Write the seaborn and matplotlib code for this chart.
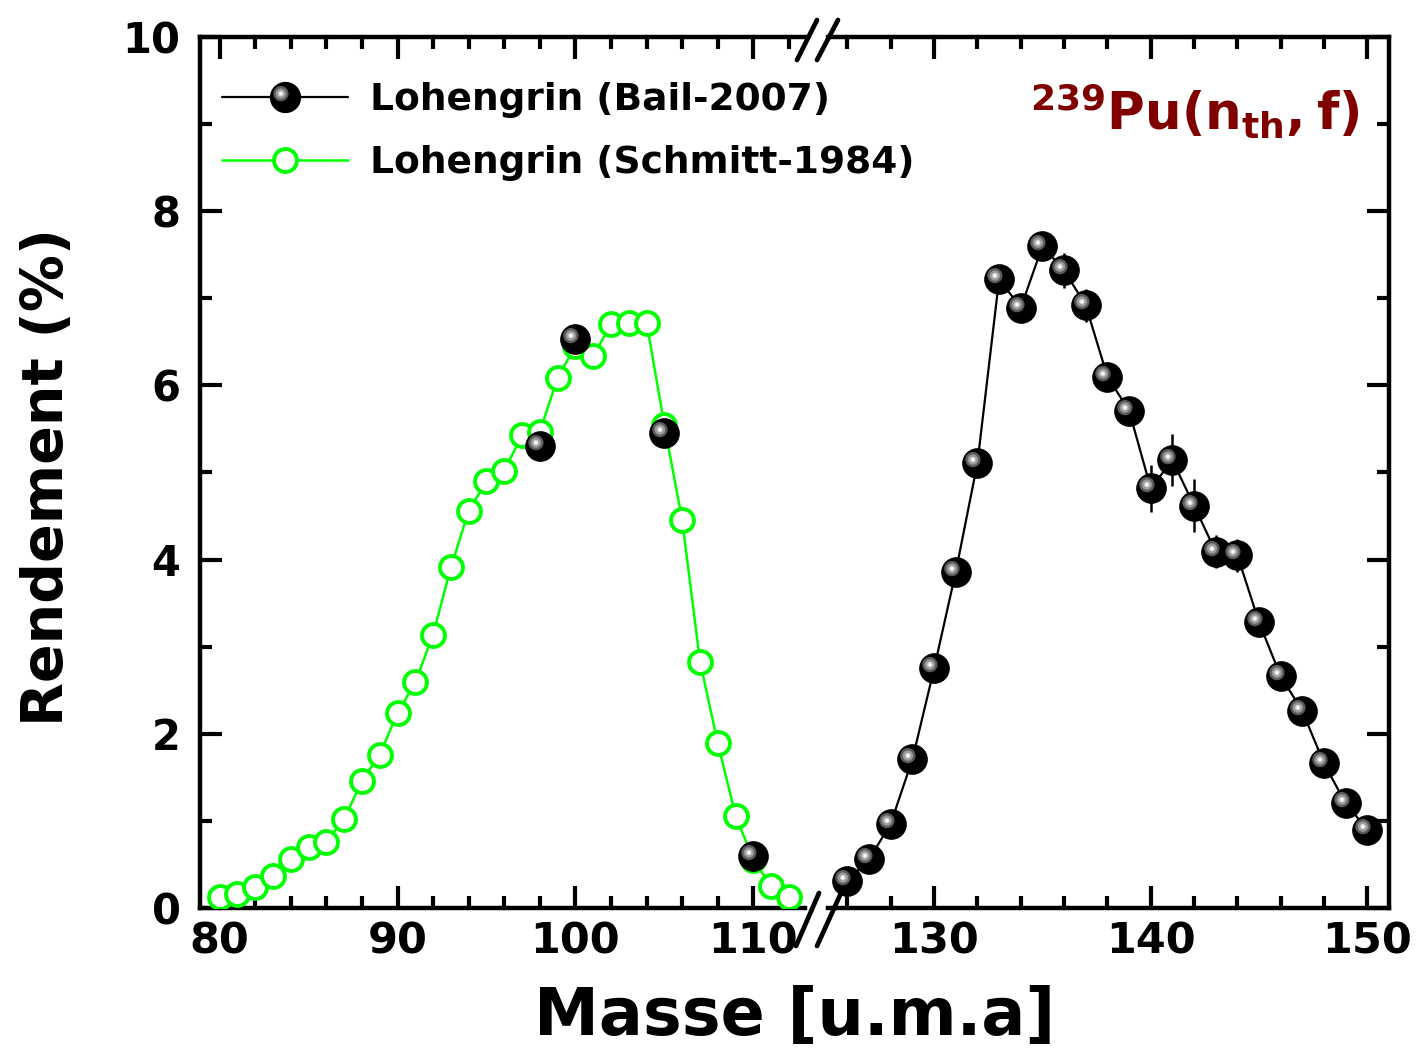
import numpy as np
import pandas as pd
import matplotlib
matplotlib.use('Agg')
import matplotlib.pyplot as plt
import seaborn as sns
from matplotlib.markers import MarkerStyle
from matplotlib.transforms import Affine2D
from matplotlib.lines import Line2D
from matplotlib.ticker import MultipleLocator

# ---------------- data ----------------
schmitt_mass = list(range(80, 113))
schmitt_yield = [0.13, 0.16, 0.24, 0.37, 0.56, 0.70, 0.76, 1.02, 1.46, 1.76,
                 2.24, 2.59, 3.14, 3.91, 4.56, 4.90, 5.02, 5.43, 5.47, 6.09,
                 6.45, 6.34, 6.70, 6.72, 6.72, 5.54, 4.45, 2.83, 1.89, 1.06,
                 0.55, 0.25, 0.13]

bail_light_mass = [98, 100, 105, 110]
bail_light_yield = [5.30, 6.53, 5.45, 0.60]

bail_heavy_mass = list(range(126, 151))
bail_heavy_yield = [0.31, 0.56, 0.97, 1.71, 2.75, 3.86, 5.11, 7.22, 6.89, 7.60,
                    7.32, 6.92, 6.10, 5.71, 4.82, 5.14, 4.62, 4.09, 4.05, 3.28,
                    2.66, 2.26, 1.66, 1.20, 0.90]
bail_heavy_err = [0.08, 0.08, 0.08, 0.08, 0.08, 0.08, 0.08, 0.08, 0.08, 0.08,
                  0.20, 0.19, 0.10, 0.10, 0.27, 0.30, 0.30, 0.19, 0.19, 0.10,
                  0.10, 0.10, 0.10, 0.10, 0.10]

label_bail = 'Lohengrin (Bail-2007)'
label_schmitt = 'Lohengrin (Schmitt-1984)'
xlabel = 'Masse [u.m.a]'
ylabel = 'Rendement (%)'
reaction = r'$\mathbf{^{239}Pu(n_{th},f)}$'

# ---------------- style ----------------
sns.set_theme(style='ticks')
plt.rcParams['font.family'] = ['DejaVu Sans']
plt.rcParams['font.weight'] = 'bold'
plt.rcParams['mathtext.fontset'] = 'dejavusans'
for k in ['text.color', 'axes.labelcolor', 'xtick.color', 'ytick.color',
          'xtick.labelcolor', 'ytick.labelcolor', 'axes.edgecolor']:
    plt.rcParams[k] = 'black'

W, H = 1422, 1055
fig = plt.figure(figsize=(W / 100, H / 100), dpi=100)
fig.patch.set_facecolor('white')


def fx(px):
    return px / W


def fy(py):
    return 1 - py / H


ax1 = fig.add_axes([fx(200), fy(908), fx(805) - fx(200), fy(37) - fy(908)])
ax2 = fig.add_axes([fx(828), fy(908), fx(1389) - fx(828), fy(37) - fy(908)])

GREEN = '#00ff00'
BALL_MS = 21.5
GREEN_MS = 16.5
GREEN_MEW = 2.8
HL_LAYERS = [(11.0, '#5c5c5c'), (7.5, '#9a9a9a'), (4.0, '#d8d8d8'), (2.0, '#ffffff')]
HL_DX, HL_DY = -3.3, 2.8


def hl_marker(ms):
    return MarkerStyle('o', transform=Affine2D().translate(HL_DX / ms, HL_DY / ms))


def add_highlights(ax, x, y, zorder):
    for ms, col in HL_LAYERS:
        ax.plot(x, y, ls='none', marker=hl_marker(ms), ms=ms, mfc=col,
                mec='none', zorder=zorder)


# Schmitt (green open circles)
df_s = pd.DataFrame({'mass': schmitt_mass, 'yield': schmitt_yield})
sns.lineplot(data=df_s, x='mass', y='yield', ax=ax1, color=GREEN, lw=1.8,
             marker='o', markersize=GREEN_MS, markerfacecolor='white',
             markeredgecolor=GREEN, markeredgewidth=GREEN_MEW, zorder=3)

# Bail light (points only)
df_bl = pd.DataFrame({'mass': bail_light_mass, 'yield': bail_light_yield})
sns.lineplot(data=df_bl, x='mass', y='yield', ax=ax1, color='black', lw=0,
             marker='o', markersize=BALL_MS, markerfacecolor='black',
             markeredgecolor='black', markeredgewidth=0.5, zorder=5)
add_highlights(ax1, bail_light_mass, bail_light_yield, 6)

# Bail heavy (line + points + errors)
ax2.errorbar(bail_heavy_mass, bail_heavy_yield, yerr=bail_heavy_err, fmt='none',
             ecolor='black', elinewidth=1.8, capsize=0, zorder=4)
df_bh = pd.DataFrame({'mass': bail_heavy_mass, 'yield': bail_heavy_yield})
sns.lineplot(data=df_bh, x='mass', y='yield', ax=ax2, color='black', lw=1.6,
             marker='o', markersize=BALL_MS, markerfacecolor='black',
             markeredgecolor='black', markeredgewidth=0.5, zorder=5)
add_highlights(ax2, bail_heavy_mass, bail_heavy_yield, 6)

# ---------------- axes ----------------
ax1.set_xlim(78.9, 112.9)
ax2.set_xlim(125.1, 151.0)
for ax in (ax1, ax2):
    ax.set_ylim(0, 10)
    ax.set_xlabel('')
    ax.set_ylabel('')
    ax.xaxis.set_major_locator(MultipleLocator(10))
    ax.xaxis.set_minor_locator(MultipleLocator(2))
    ax.yaxis.set_major_locator(MultipleLocator(2))
    ax.yaxis.set_minor_locator(MultipleLocator(1))
    for s in ax.spines.values():
        s.set_linewidth(3.2)
        s.set_color('black')
    ax.tick_params(which='both', direction='in', width=3, color='black',
                   labelcolor='black', top=True, bottom=True)
    ax.tick_params(which='major', length=16)
    ax.tick_params(which='minor', length=8.5)
    ax.tick_params(axis='x', which='major', labelsize=31, pad=9)
    ax.tick_params(axis='y', which='major', labelsize=30, pad=14)
    ax.grid(False)

ax1.spines['right'].set_visible(False)
ax2.spines['left'].set_visible(False)
ax1.tick_params(which='both', left=True, right=False)
ax2.tick_params(which='both', left=False, right=True, labelleft=False,
                labelright=False)
ax2.patch.set_alpha(0)

# break marks
for (x0, y0, x1, y1) in [(797, 60, 817, 20), (817, 60, 838, 20),
                         (796, 946, 819, 893), (817, 946, 841, 893)]:
    fig.add_artist(Line2D([fx(x0), fx(x1)], [fy(y0), fy(y1)],
                          transform=fig.transFigure, color='black', lw=3.4,
                          solid_capstyle='round'))

# labels
fig.text(fx(795), fy(1017), xlabel, fontsize=47, fontweight='bold',
         ha='center', va='center', color='black')
fig.text(fx(48), fy(477), ylabel, fontsize=41, fontweight='bold',
         ha='center', va='center', rotation=90, color='black')

ax2.text(0.948, 0.914, reaction, transform=ax2.transAxes, color='#800000',
         fontsize=37, ha='right', va='center')

# legend
h_bail = tuple([Line2D([], [], color='black', lw=1.6, marker='o', ms=BALL_MS,
                       mfc='black', mec='black')] +
               [Line2D([], [], ls='none', ms=ms, mfc=col, mec='none',
                       marker=hl_marker(ms)) for ms, col in HL_LAYERS])
h_sch = Line2D([], [], color=GREEN, lw=1.8, marker='o', ms=GREEN_MS, mfc='white',
               mec=GREEN, mew=GREEN_MEW)
fig.legend([h_bail, h_sch], [label_bail, label_schmitt], loc='upper left',
           bbox_to_anchor=(fx(222), fy(82)), frameon=False,
           prop={'size': 27, 'weight': 'bold'}, handlelength=3.35,
           handletextpad=0.6, labelspacing=0.72, borderpad=0, borderaxespad=0,
           labelcolor='black')

fig.savefig('out.png', dpi=100, facecolor='white')
